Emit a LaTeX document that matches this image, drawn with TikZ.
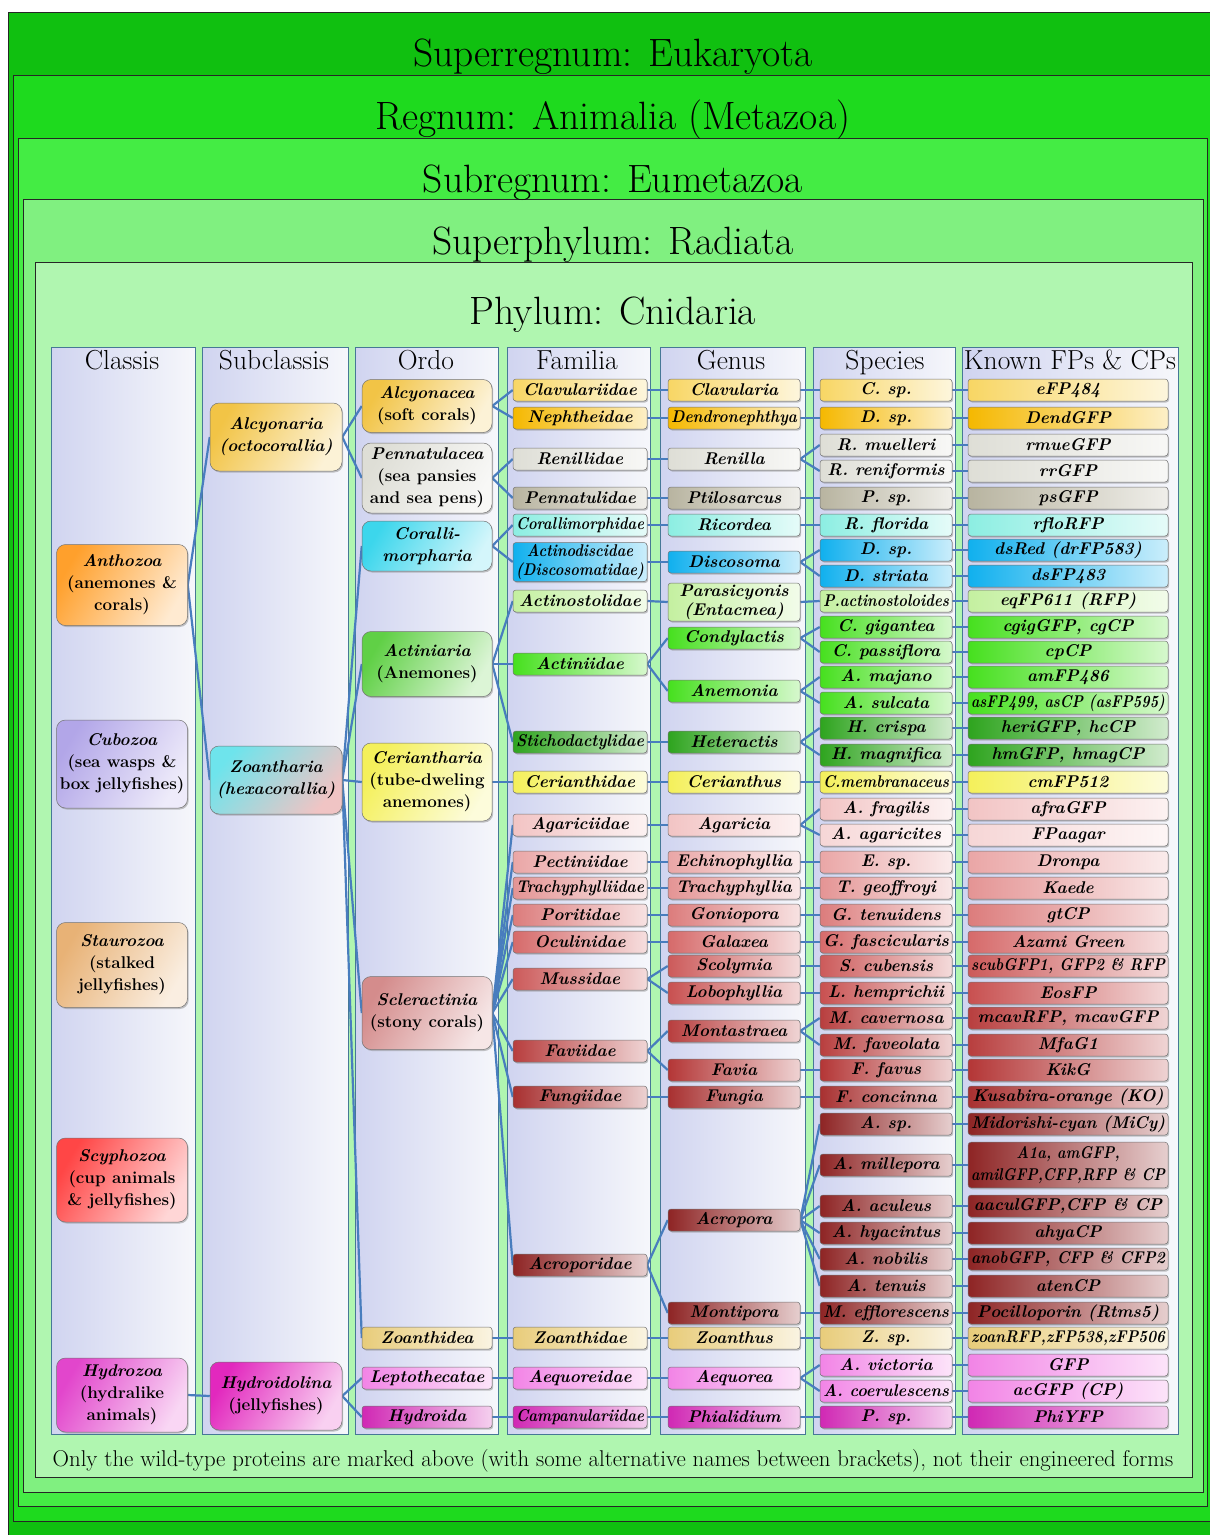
\documentclass[tikz,border=0pt]{standalone}
\usepackage{graphicx}
\usepackage{tikz}
\usetikzlibrary{shadows}
% nested ranks
\definecolor{regA}{RGB}{16,192,16}
\definecolor{regB}{RGB}{30,218,30}
\definecolor{regC}{RGB}{68,236,68}
\definecolor{regD}{RGB}{128,240,128}
\definecolor{regE}{RGB}{176,246,176}
\definecolor{panelA}{RGB}{208,212,240}
\definecolor{panelB}{RGB}{246,247,251}
\definecolor{panelline}{RGB}{70,120,150}
\definecolor{linkc}{RGB}{72,125,190}
% taxa
\definecolor{anth}{RGB}{255,160,44}
\definecolor{cubo}{RGB}{178,166,232}
\definecolor{stau}{RGB}{232,178,118}
\definecolor{scy}{RGB}{255,70,70}
\definecolor{hydz}{RGB}{226,70,204}
\definecolor{hydr}{RGB}{226,40,190}
\definecolor{alcy}{RGB}{242,196,70}
\definecolor{clav}{RGB}{248,214,100}
\definecolor{neph}{RGB}{245,184,0}
\definecolor{renil}{RGB}{222,222,214}
\definecolor{ptil}{RGB}{184,180,160}
\definecolor{ricor}{RGB}{140,238,226}
\definecolor{coral}{RGB}{60,214,236}
\definecolor{disco}{RGB}{16,176,238}
\definecolor{paras}{RGB}{196,240,160}
\definecolor{actin}{RGB}{96,208,70}
\definecolor{condy}{RGB}{70,224,30}
\definecolor{heter}{RGB}{46,164,30}
\definecolor{ceri}{RGB}{244,240,90}
\definecolor{agar}{RGB}{242,196,196}
\definecolor{agarl}{RGB}{246,214,214}
\definecolor{echi}{RGB}{234,166,166}
\definecolor{trach}{RGB}{228,148,148}
\definecolor{gonio}{RGB}{220,124,124}
\definecolor{galax}{RGB}{214,106,106}
\definecolor{scoly}{RGB}{204,90,90}
\definecolor{lobo}{RGB}{200,80,80}
\definecolor{monta}{RGB}{184,62,62}
\definecolor{favia}{RGB}{180,54,54}
\definecolor{fungi}{RGB}{168,48,48}
\definecolor{acro}{RGB}{142,36,36}
\definecolor{scler}{RGB}{212,140,140}
\definecolor{zoant}{RGB}{232,204,122}
\definecolor{aequ}{RGB}{242,132,230}
\definecolor{phial}{RGB}{208,40,180}

% squeeze a one-line label into its box
\newsavebox\sqbox
\newcommand\sqbeg[1]{\def\sqmax{#1}\setbox\sqbox=\hbox\bgroup}
\newcommand\sqend{\egroup\ifdim\wd\sqbox>\sqmax\relax\resizebox{\sqmax}{\height}{\usebox\sqbox}\else\usebox\sqbox\fi}

\pgfdeclarelayer{back}
\pgfdeclarelayer{edges}
\pgfsetlayers{back,edges,main}

\tikzset{
  frame/.style={draw=black!85, line width=0.8pt, fill=#1},
  bandtitle/.style={font=\fontsize{39.5}{44}\selectfont, inner sep=0pt, anchor=base},
  panel/.style={draw=panelline, line width=0.9pt, left color=panelA, right color=panelB},
  colhead/.style={font=\fontsize{27.5}{30}\selectfont, inner sep=0pt, anchor=base},
  link/.style={draw=linkc, line width=2.2pt},
  shade box/.style={left color=#1, right color=#1!22!white,
    drop shadow={shadow xshift=1.2pt, shadow yshift=-1.5pt, opacity=0.45}},
  taxon/.style={shade box=#1, draw=black!55, line width=0.5pt, rounded corners=3pt,
    inner sep=0pt, minimum height=22pt, font=\fontsize{17}{19}\selectfont\bfseries\itshape},
  ordo/.style={taxon=#1, minimum width=130pt,
    execute at begin node={\sqbeg{124pt}}, execute at end node={\sqend}},
  fam/.style={taxon=#1, minimum width=134pt,
    execute at begin node={\sqbeg{128pt}}, execute at end node={\sqend}},
  gen/.style={taxon=#1, minimum width=132pt,
    execute at begin node={\sqbeg{126pt}}, execute at end node={\sqend}},
  spc/.style={taxon=#1, minimum width=132pt,
    execute at begin node={\sqbeg{126pt}}, execute at end node={\sqend}},
  fpbox/.style={taxon=#1, minimum width=200pt,
    execute at begin node={\sqbeg{194pt}}, execute at end node={\sqend}},
  big/.style={shade box=#1, shading angle=60, draw=black!55, line width=0.5pt,
    rounded corners=9pt, align=center, inner sep=3pt,
    font=\fontsize{17}{22}\selectfont\bfseries},
  classis/.style={big=#1, minimum width=131pt},
  subcl/.style={big=#1, minimum width=132pt},
  ordobig/.style={big=#1, minimum width=130pt}
}

\begin{document}
\begin{tikzpicture}[x=1pt, y=-1pt]
  \useasboundingbox (0,0) rectangle (1210,1535);

  \begin{pgfonlayer}{back}
    \fill[white] (0,0) rectangle (1210,1535);
    \draw[frame=regA] (8,12) rectangle (1216,1541);
    \draw[frame=regB] (13,75) rectangle (1210,1521);
    \draw[frame=regC] (18,138) rectangle (1207,1506);
    \draw[frame=regD] (23,199) rectangle (1203,1492);
    \draw[frame=regE] (35,262) rectangle (1192,1477);
    \draw[panel] (51,347) rectangle (195,1434);
    \draw[panel] (202,347) rectangle (348,1434);
    \draw[panel] (355,347) rectangle (498,1434);
    \draw[panel] (507,347) rectangle (650,1434);
    \draw[panel] (660,347) rectangle (805,1434);
    \draw[panel] (813,347) rectangle (955,1434);
    \draw[panel] (962,347) rectangle (1178,1434);
  \end{pgfonlayer}

  % ranks
  \node[bandtitle] (tSup)  at (613,66)  {Superregnum: Eukaryota};
  \node[bandtitle] (tReg)  at (613,129) {Regnum: Animalia (Metazoa)};
  \node[bandtitle] (tSub)  at (613,192) {Subregnum: Eumetazoa};
  \node[bandtitle] (tSph)  at (613,254) {Superphylum: Radiata};
  \node[bandtitle] (tPhy)  at (613,324) {Phylum: Cnidaria};

  \node[colhead] (hCla) at (122,369)  {Classis};
  \node[colhead] (hSub) at (274,369)  {Subclassis};
  \node[colhead] (hOrd) at (426,369)  {Ordo};
  \node[colhead] (hFam) at (577,369)  {Familia};
  \node[colhead] (hGen) at (731,369)  {Genus};
  \node[colhead] (hSpe) at (885,369)  {Species};
  \node[colhead] (hFps) at (1070,369) {Known FPs \& CPs};

  % classis
  \node[classis=anth, minimum height=81pt] (cAnth) at (122,585)
    {{\itshape Anthozoa}\\(anemones \&\\corals)};
  \node[classis=cubo, minimum height=88pt] (cCubo) at (122,764)
    {{\itshape Cubozoa}\\(sea wasps \&\\box jellyfishes)};
  \node[classis=stau, minimum height=85pt] (cStau) at (122,965)
    {{\itshape Staurozoa}\\(stalked\\jellyfishes)};
  \node[classis=scy, minimum height=84pt] (cScy) at (122,1180)
    {{\itshape Scyphozoa}\\(cup animals\\\& jellyfishes)};
  \node[classis=hydz, minimum height=74pt] (cHyd) at (122,1395)
    {{\itshape Hydrozoa}\\(hydralike\\animals)};

  % subclassis
  \node[subcl=alcy, minimum height=68pt] (sAlcy) at (276,437)
    {{\itshape Alcyonaria}\\{\itshape (octocorallia)}};
  \node[subcl=ceri, minimum height=68pt, left color={rgb,255:red,110;green,228;blue,236},
    middle color={rgb,255:red,236;green,240;blue,140}, right color={rgb,255:red,240;green,196;blue,196},
    shading angle=50] (sZoan) at (276,780)
    {{\itshape Zoantharia}\\{\itshape (hexacorallia)}};
  \node[subcl=hydr, minimum height=68pt] (sHyd) at (276,1396)
    {{\itshape Hydroidolina}\\(jellyfishes)};

  % ordo
  \node[ordobig=alcy, minimum height=53pt] (oAlcy) at (427,406)
    {{\itshape Alcyonacea}\\(soft corals)};
  \node[ordobig=renil, minimum height=70pt] (oPen) at (427,478)
    {{\itshape Pennatulacea}\\(sea pansies\\and sea pens)};
  \node[ordobig=coral, minimum height=50pt] (oCor) at (427,546)
    {{\itshape Coralli-}\\{\itshape morpharia}};
  \node[ordobig=actin, minimum height=65pt] (oAct) at (427,664)
    {{\itshape Actiniaria}\\(Anemones)};
  \node[ordobig=ceri, minimum height=78pt] (oCer) at (427,782)
    {{\itshape Ceriantharia}\\(tube-dweling\\anemones)};
  \node[ordobig=scler, minimum height=73pt] (oScl) at (427,1013)
    {{\itshape Scleractinia}\\(stony corals)};
  \node[ordo=zoant] (oZoan) at (427,1338) {Zoanthidea};
  \node[ordo=aequ]  (oLep)  at (427,1378) {Leptothecatae};
  \node[ordo=phial] (oHyd)  at (427,1417) {Hydroida};

  % familia
  \node[fam=clav]  (fClav)  at (580,390)  {Clavulariidae};
  \node[fam=neph]  (fNeph)  at (580,418)  {Nephtheidae};
  \node[fam=renil] (fRen)   at (580,459)  {Renillidae};
  \node[fam=ptil]  (fPen)   at (580,498)  {Pennatulidae};
  \node[fam=ricor] (fCor)   at (580,525)  {Corallimorphidae};
  \node[fam=disco, minimum height=39pt] (fAct) at (580,562)
    {\begin{tabular}{@{}c@{}}Actinodiscidae\\(Discosomatidae)\end{tabular}};
  \node[fam=paras] (fAcst)  at (580,601)  {Actinostolidae};
  \node[fam=condy] (fAcn)   at (580,664)  {Actiniidae};
  \node[fam=heter] (fSti)   at (580,742)  {Stichodactylidae};
  \node[fam=ceri]  (fCer)   at (580,782)  {Cerianthidae};
  \node[fam=agar]  (fAgar)  at (580,825)  {Agariciidae};
  \node[fam=echi]  (fPect)  at (580,862)  {Pectiniidae};
  \node[fam=trach] (fTrach) at (580,888)  {Trachyphylliidae};
  \node[fam=gonio] (fPor)   at (580,915)  {Poritidae};
  \node[fam=galax] (fOcu)   at (580,942)  {Oculinidae};
  \node[fam=scoly] (fMus)   at (580,979)  {Mussidae};
  \node[fam=monta] (fFav)   at (580,1051) {Faviidae};
  \node[fam=fungi] (fFung)  at (580,1097) {Fungiidae};
  \node[fam=acro]  (fAcro)  at (580,1265) {Acroporidae};
  \node[fam=zoant] (fZoan)  at (580,1338) {Zoanthidae};
  \node[fam=aequ]  (fAeq)   at (580,1378) {Aequoreidae};
  \node[fam=phial] (fCamp)  at (580,1417) {Campanulariidae};

  % genus
  \node[gen=clav]  (gClav)  at (734,390)  {Clavularia};
  \node[gen=neph]  (gDend)  at (734,418)  {Dendronephthya};
  \node[gen=renil] (gRen)   at (734,459)  {Renilla};
  \node[gen=ptil]  (gPtil)  at (734,498)  {Ptilosarcus};
  \node[gen=ricor] (gRic)   at (734,525)  {Ricordea};
  \node[gen=disco] (gDisc)  at (734,562)  {Discosoma};
  \node[gen=paras, minimum height=37pt] (gPara) at (734,602)
    {\begin{tabular}{@{}c@{}}Parasicyonis\\(Entacmea)\end{tabular}};
  \node[gen=condy] (gCond)  at (734,638)  {Condylactis};
  \node[gen=condy] (gAnem)  at (734,691)  {Anemonia};
  \node[gen=heter] (gHet)   at (734,742)  {Heteractis};
  \node[gen=ceri]  (gCer)   at (734,782)  {Cerianthus};
  \node[gen=agar]  (gAgar)  at (734,825)  {Agaricia};
  \node[gen=echi]  (gEchi)  at (734,862)  {Echinophyllia};
  \node[gen=trach] (gTrach) at (734,888)  {Trachyphyllia};
  \node[gen=gonio] (gGon)   at (734,915)  {Goniopora};
  \node[gen=galax] (gGal)   at (734,942)  {Galaxea};
  \node[gen=scoly] (gScol)  at (734,966)  {Scolymia};
  \node[gen=lobo]  (gLob)   at (734,993)  {Lobophyllia};
  \node[gen=monta] (gMont)  at (734,1031) {Montastraea};
  \node[gen=favia] (gFav)   at (734,1070) {Favia};
  \node[gen=fungi] (gFung)  at (734,1097) {Fungia};
  \node[gen=acro]  (gAcro)  at (734,1220) {Acropora};
  \node[gen=acro]  (gMonti) at (734,1313) {Montipora};
  \node[gen=zoant] (gZoan)  at (734,1338) {Zoanthus};
  \node[gen=aequ]  (gAeq)   at (734,1378) {Aequorea};
  \node[gen=phial] (gPhi)   at (734,1417) {Phialidium};

  % species and their proteins
  \foreach \rw/\yy/\col/\sname/\fname in {
    1/390/clav/{C. sp.}/{eFP484},
    2/418/neph/{D. sp.}/{DendGFP},
    3/445/renil/{R. muelleri}/{rmueGFP},
    4/471/renil/{R. reniformis}/{rrGFP},
    5/498/ptil/{P. sp.}/{psGFP},
    6/525/ricor/{R. florida}/{rfloRFP},
    7/550/disco/{D. sp.}/{dsRed (drFP583)},
    8/576/disco/{D. striata}/{dsFP483},
    9/601/paras/{P.actinostoloides}/{eqFP611 (RFP)},
    10/627/condy/{C. gigantea}/{cgigGFP, cgCP},
    11/652/condy/{C. passiflora}/{cpCP},
    12/677/condy/{A. majano}/{amFP486},
    13/703/condy/{A. sulcata}/{asFP499, asCP (asFP595)},
    14/728/heter/{H. crispa}/{heriGFP, hcCP},
    15/755/heter/{H. magnifica}/{hmGFP, hmagCP},
    16/782/ceri/{C.membranaceus}/{cmFP512},
    17/809/agar/{A. fragilis}/{afraGFP},
    18/835/agarl/{A. agaricites}/{FPaagar},
    19/862/echi/{E. sp.}/{Dronpa},
    20/888/trach/{T. geoffroyi}/{Kaede},
    21/915/gonio/{G. tenuidens}/{gtCP},
    22/942/galax/{G. fascicularis}/{Azami Green},
    23/966/scoly/{S. cubensis}/{scubGFP1, GFP2 \& RFP},
    24/993/lobo/{L. hemprichii}/{EosFP},
    25/1018/monta/{M. cavernosa}/{mcavRFP, mcavGFP},
    26/1045/monta/{M. faveolata}/{MfaG1},
    27/1070/favia/{F. favus}/{KikG},
    28/1097/fungi/{F. concinna}/{Kusabira-orange (KO)},
    29/1124/acro/{A. sp.}/{Midorishi-cyan (MiCy)},
    30/1165/acro/{A. millepora}/{{\renewcommand\arraystretch{1.2}\begin{tabular}{@{}c@{}}A1a, amGFP,\\amilGFP,CFP,RFP \& CP\end{tabular}}},
    31/1206/acro/{A. aculeus}/{aaculGFP,CFP \& CP},
    32/1233/acro/{A. hyacintus}/{ahyaCP},
    33/1259/acro/{A. nobilis}/{anobGFP, CFP \& CFP2},
    34/1286/acro/{A. tenuis}/{atenCP},
    35/1313/acro/{M. efflorescens}/{Pocilloporin (Rtms5)},
    36/1338/zoant/{Z. sp.}/{zoanRFP,zFP538,zFP506},
    37/1365/aequ/{A. victoria}/{GFP},
    38/1391/aequ/{A. coerulescens}/{acGFP (CP)},
    39/1417/phial/{P. sp.}/{PhiYFP}}{
    \node[spc=\col] (s\rw) at (886,\yy) {\sname};
    \node[fpbox=\col] (f\rw) at (1068,\yy) {\fname};
    \begin{pgfonlayer}{edges}
      \draw[link] (s\rw.east) -- (f\rw.west);
    \end{pgfonlayer}
  }

  \begin{pgfonlayer}{edges}
    \foreach \a/\b in {cAnth/sAlcy, cAnth/sZoan, cHyd/sHyd,
      sAlcy/oAlcy, sAlcy/oPen, sZoan/oCor, sZoan/oAct, sZoan/oCer, sZoan/oScl,
      sZoan/oZoan, sHyd/oLep, sHyd/oHyd,
      oAlcy/fClav, oAlcy/fNeph, oPen/fRen, oPen/fPen, oCor/fCor, oCor/fAct,
      oAct/fAcst, oAct/fAcn, oAct/fSti, oCer/fCer,
      oScl/fAgar, oScl/fPect, oScl/fTrach, oScl/fPor, oScl/fOcu, oScl/fMus,
      oScl/fFav, oScl/fFung, oScl/fAcro, oZoan/fZoan, oLep/fAeq, oHyd/fCamp,
      fClav/gClav, fNeph/gDend, fRen/gRen, fPen/gPtil, fCor/gRic, fAct/gDisc,
      fAcst/gPara, fAcn/gCond, fAcn/gAnem, fSti/gHet, fCer/gCer, fAgar/gAgar,
      fPect/gEchi, fTrach/gTrach, fPor/gGon, fOcu/gGal, fMus/gScol, fMus/gLob,
      fFav/gMont, fFav/gFav, fFung/gFung, fAcro/gAcro, fAcro/gMonti,
      fZoan/gZoan, fAeq/gAeq, fCamp/gPhi,
      gClav/s1, gDend/s2, gRen/s3, gRen/s4, gPtil/s5, gRic/s6, gDisc/s7, gDisc/s8,
      gPara/s9, gCond/s10, gCond/s11, gAnem/s12, gAnem/s13, gHet/s14, gHet/s15,
      gCer/s16, gAgar/s17, gAgar/s18, gEchi/s19, gTrach/s20, gGon/s21, gGal/s22,
      gScol/s23, gLob/s24, gMont/s25, gMont/s26, gFav/s27, gFung/s28,
      gAcro/s29, gAcro/s30, gAcro/s31, gAcro/s32, gAcro/s33, gAcro/s34,
      gMonti/s35, gZoan/s36, gAeq/s37, gAeq/s38, gPhi/s39}
      \draw[link] (\a.east) -- (\b.west);
  \end{pgfonlayer}

  \node[font=\fontsize{22.8}{26}\selectfont, inner sep=0pt, anchor=base] (note) at (613,1466)
    {Only the wild-type proteins are marked above (with some alternative names between brackets), not their engineered forms};
\end{tikzpicture}
\end{document}
